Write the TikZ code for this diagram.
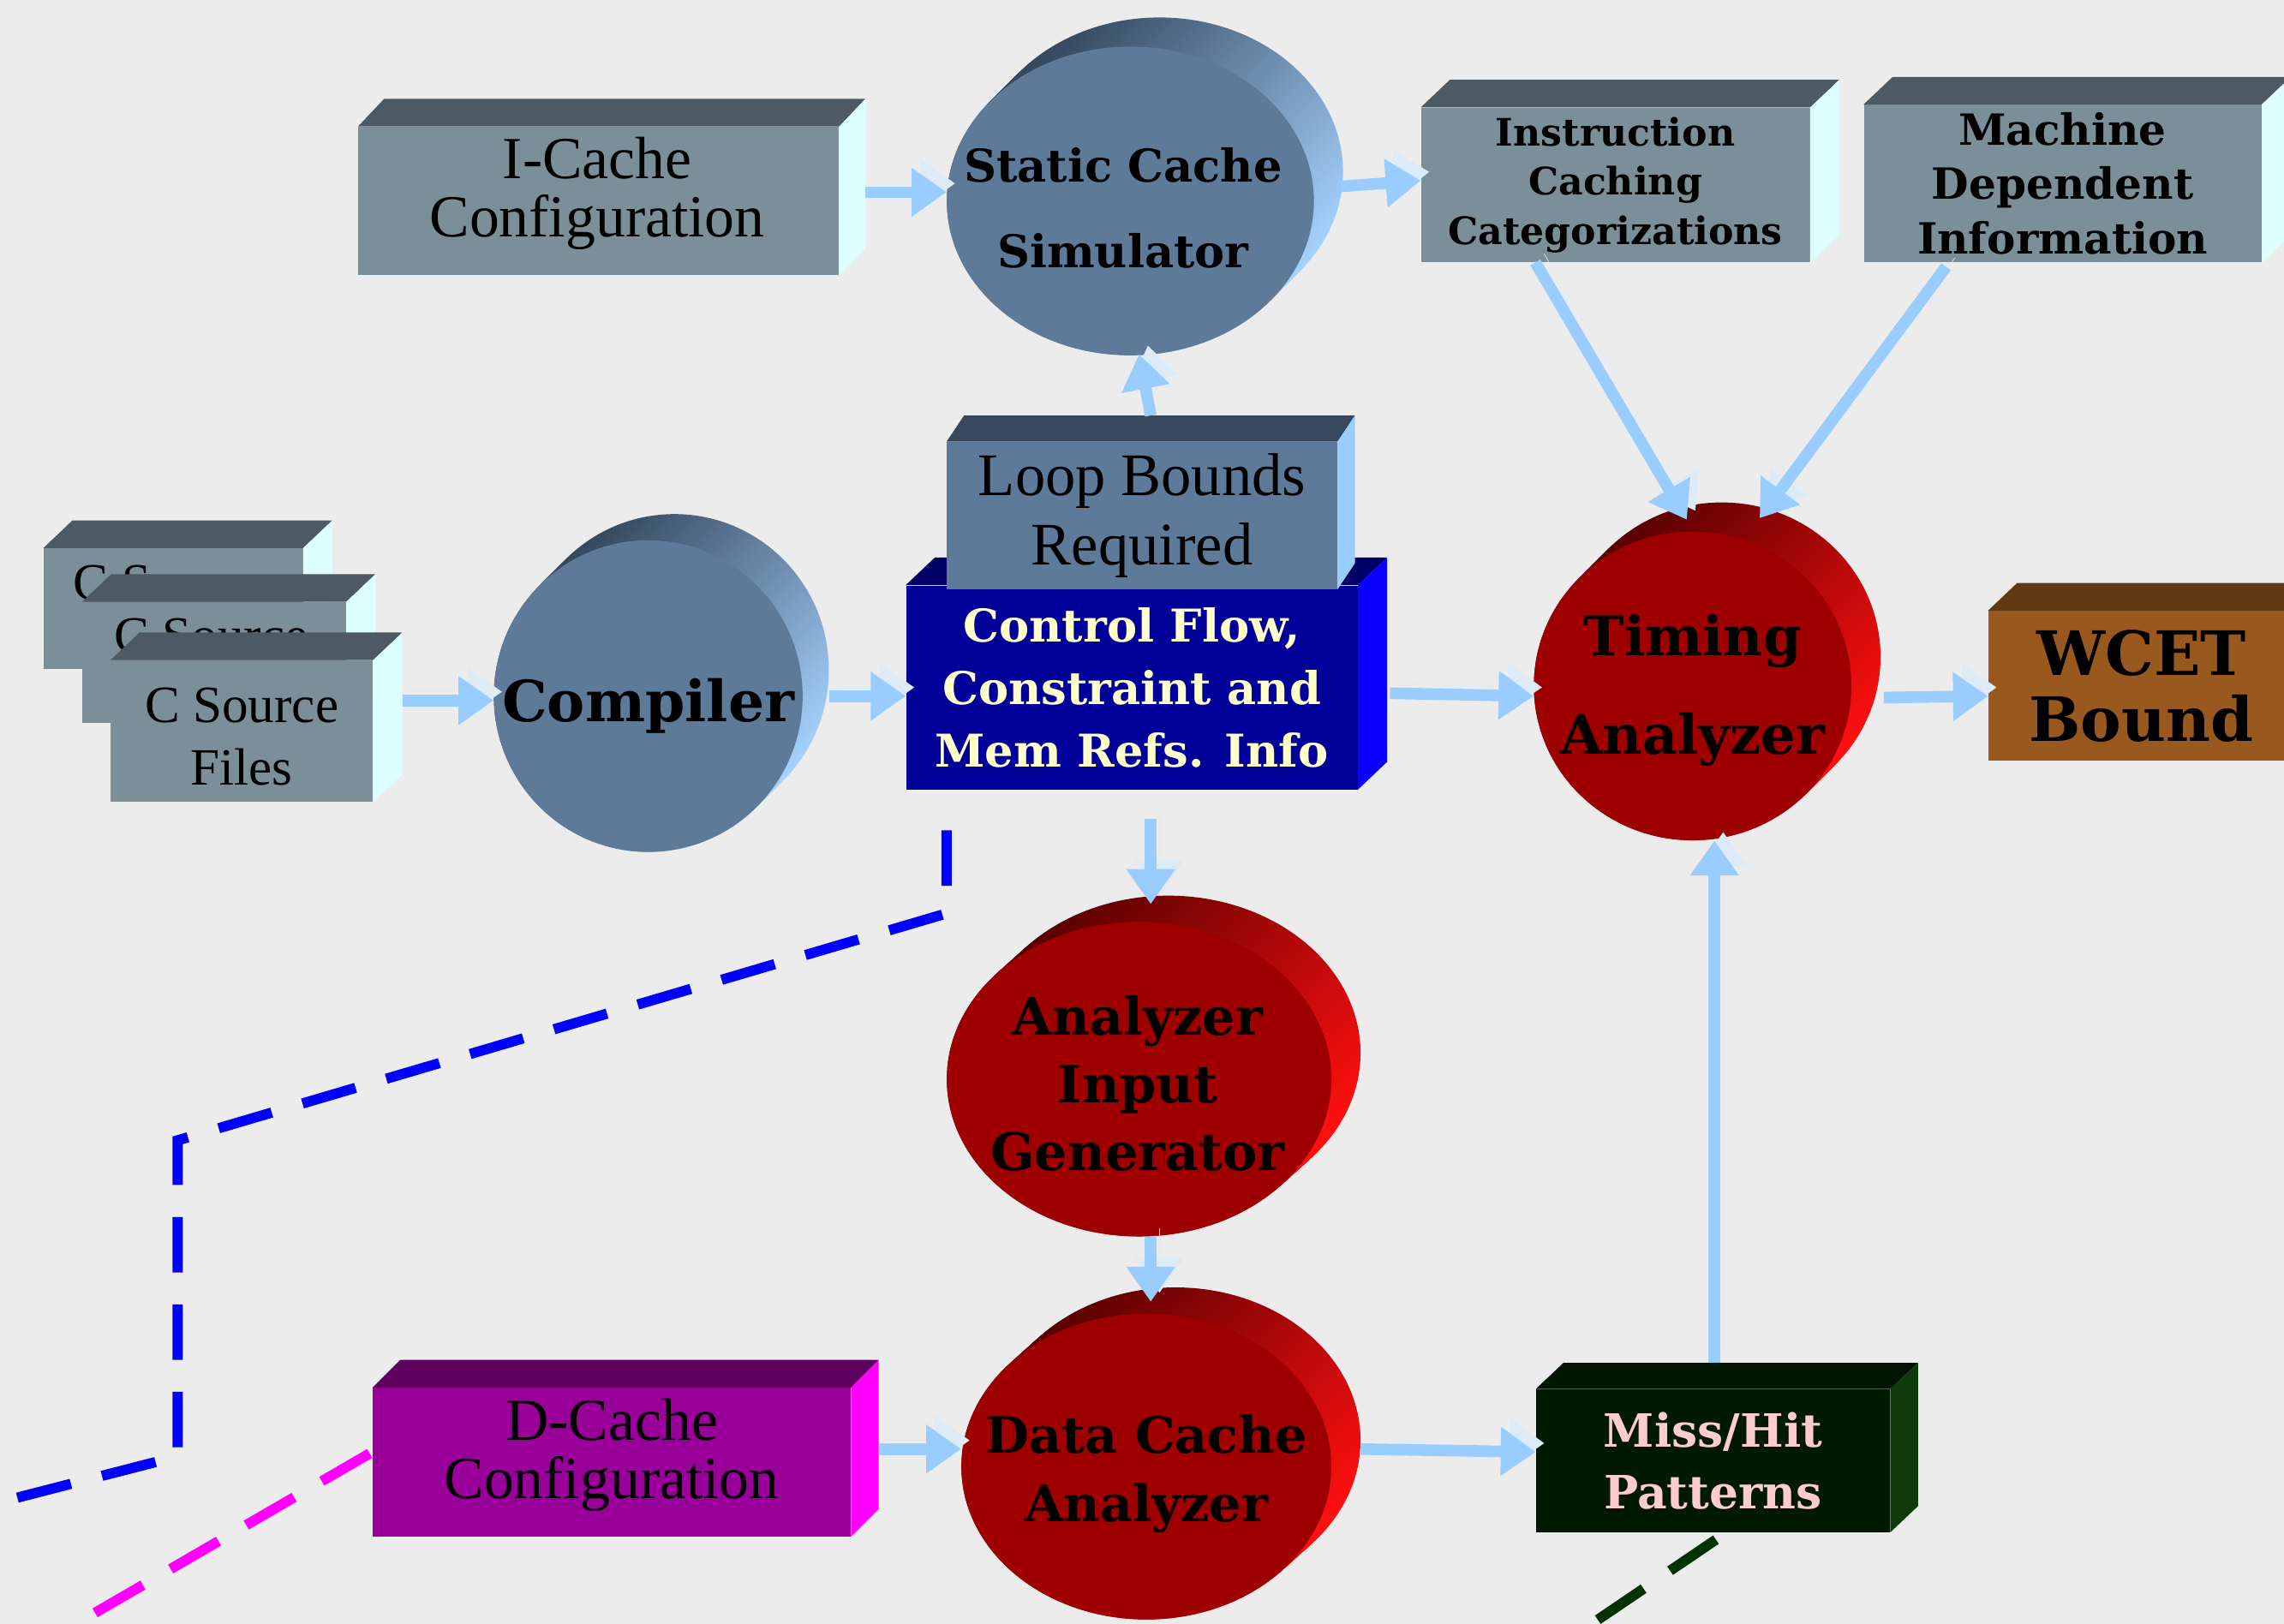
\documentclass[tikz,border=0pt]{standalone}
\usepackage{fontspec}
\setmainfont{Liberation Serif}
\newfontfamily\headfont{DejaVu Serif}
\usetikzlibrary{arrows.meta,shapes.geometric}

\definecolor{paper}{HTML}{ECECEC}
\definecolor{grayfront}{HTML}{7B8F99}
\definecolor{graytop}{HTML}{4E5A63}
\definecolor{grayside}{HTML}{DDFFFF}
\definecolor{blufront}{HTML}{5D7A99}
\definecolor{blutop}{HTML}{36495E}
\definecolor{bluside}{HTML}{99CCFF}
\definecolor{blurimtop}{HTML}{34485E}
\definecolor{blurimlow}{HTML}{A6D2FF}
\definecolor{cffront}{HTML}{000099}
\definecolor{cftop}{HTML}{000066}
\definecolor{cfside}{HTML}{0A00FF}
\definecolor{cftext}{HTML}{FFFFCC}
\definecolor{redfront}{HTML}{9E0000}
\definecolor{redrimtop}{HTML}{5A0000}
\definecolor{redrimlow}{HTML}{FF1010}
\definecolor{wcetfront}{HTML}{99591E}
\definecolor{wcettop}{HTML}{603813}
\definecolor{dcfront}{HTML}{990099}
\definecolor{dctop}{HTML}{5E005E}
\definecolor{dcside}{HTML}{FF00FF}
\definecolor{mhfront}{HTML}{001A00}
\definecolor{mhtop}{HTML}{001400}
\definecolor{mhside}{HTML}{0F3A0A}
\definecolor{mhtext}{HTML}{FFCCCC}
\definecolor{flowblue}{HTML}{99CCFF}
\definecolor{flowpale}{HTML}{DDEBF7}
\definecolor{dashblue}{HTML}{0000FF}
\definecolor{dashmag}{HTML}{FF00FF}
\definecolor{dashgreen}{HTML}{003300}

% top and side faces of a box node: node, dx, dy, top colour, side colour
\newcommand{\slabfaces}[5]{%
  \fill[#4] (#1.north west) -- ++(#2,#3) -- ([shift={(#2,#3)}]#1.north east) -- (#1.north east) -- cycle;
  \fill[#5] (#1.north east) -- ++(#2,#3) -- ([shift={(#2,#3)}]#1.south east) -- (#1.south east) -- cycle;
}

\begin{document}
\begin{tikzpicture}[x=1pt,y=-1pt,
  flow/.style={draw=flowblue, line width=8pt, -{Triangle[length=24pt,width=32pt]},
    preaction={draw=flowpale, transform canvas={shift={(6pt,6pt)}}}},
  slab/.style={rectangle, inner sep=0pt, align=center},
  disc/.style={ellipse, inner sep=0pt},
  plaintext/.style 2 args={font=\fontsize{#1}{#2}\selectfont, align=center},
  boldtext/.style 2 args={font=\headfont\bfseries\fontsize{#1}{#2}\selectfont, align=center},
  rimblue/.style={top color=blurimtop, middle color=blurimlow, bottom color=blurimlow, shading angle=45},
  rimred/.style={top color=redrimtop, middle color=redrimlow, bottom color=redrimlow, shading angle=45},
  dashlink/.style={line width=7pt, dash pattern=on 38pt off 22pt}]

\clip (0,0) rectangle (1568,1115);
\fill[paper] (0,0) rectangle (1568,1115);

% boxes along the top
\node[slab, fill=grayfront, minimum width=330, minimum height=102] (icache) at (411,138) {};
\node[plaintext={41}{40}] (icachelabel) at (410,133) {I-Cache\\Configuration};
\slabfaces{icache}{18}{-19}{graytop}{grayside}
\node[slab, fill=grayfront, minimum width=267, minimum height=106, boldtext={26}{34}] (icc) at (1109,127) {Instruction\\Caching\\Categorizations};
\slabfaces{icc}{20}{-19}{graytop}{grayside}
\node[slab, fill=grayfront, minimum width=273, minimum height=108, boldtext={29.5}{37.5}] (mdi) at (1416,126) {Machine\\Dependent\\Information};
\slabfaces{mdi}{20}{-19}{graytop}{grayside}

% static cache simulator
\foreach \k in {0,...,10}
  \shade[rimblue] ({796-2*\k},{118+2*\k}) ellipse [x radius=126, y radius=106];
\node[disc, fill=blufront, minimum width=252, minimum height=212] (sim) at (776,138) {};
\node[boldtext={31}{59}] (simlabel) at (771,143) {Static Cache\\Simulator};

% source files
\node[slab, fill=grayfront, minimum width=178, minimum height=83] (csrc1) at (119,418) {};
\node[plaintext={36}{43}] (csrc1label) at (117,400) {C Source};
\slabfaces{csrc1}{20}{-19}{graytop}{grayside}
\node[slab, fill=grayfront, minimum width=181, minimum height=83] (csrc2) at (147,455) {};
\node[plaintext={36}{43}] (csrc2label) at (145,437) {C Source};
\slabfaces{csrc2}{20}{-19}{graytop}{grayside}
\node[slab, fill=grayfront, minimum width=180, minimum height=97] (csrc3) at (166,502) {};
\node[plaintext={36}{43}] (csrc3label) at (166,506) {C Source\\Files};
\slabfaces{csrc3}{20}{-19}{graytop}{grayside}

% compiler
\foreach \k in {0,...,10}
  \shade[rimblue] ({463-1.8*\k},{460+1.8*\k}) ellipse [x radius=106, y radius=107];
\node[disc, fill=blufront, minimum width=212, minimum height=214] (comp) at (445,478) {};
\node[boldtext={39}{44}] (complabel) at (445,485) {Compiler};

% control flow and loop bounds
\node[slab, fill=cffront, text=cftext, minimum width=310, minimum height=140, boldtext={31}{43}] (cf) at (777,472) {Control Flow,\\Constraint and\\Mem Refs. Info};
\slabfaces{cf}{20}{-19}{cftop}{cfside}
\node[slab, fill=blufront, minimum width=268, minimum height=101, plaintext={41.5}{48}] (loop) at (784,354) {Loop Bounds\\Required};
\slabfaces{loop}{12}{-18}{blutop}{bluside}

% timing analyzer
\foreach \k in {0,...,10}
  \shade[rimred] ({1182-2*\k},{451+2*\k}) ellipse [x radius=109, y radius=106];
\node[disc, fill=redfront, minimum width=218, minimum height=212] (tim) at (1162,471) {};
\node[boldtext={37.5}{68}] (timlabel) at (1162,474) {Timing\\Analyzer};

% wcet bound
\node[slab, fill=wcetfront, minimum width=210, minimum height=103, boldtext={42}{45}] (wcet) at (1470,471) {WCET\\Bound};
\slabfaces{wcet}{20}{-19}{wcettop}{wcetfront}

% analyzer input generator
\foreach \k in {0,...,10}
  \shade[rimred] ({802-2*\k},{723+1.8*\k}) ellipse [x radius=132, y radius=108];
\node[disc, fill=redfront, minimum width=264, minimum height=216] (aig) at (782,741) {};
\node[boldtext={35.5}{46.5}] (aiglabel) at (781,744) {Analyzer\\Input\\Generator};

% data cache analyzer
\foreach \k in {0,...,10}
  \shade[rimred] ({807-2*\k},{989+1.8*\k}) ellipse [x radius=127, y radius=105];
\node[disc, fill=redfront, minimum width=254, minimum height=210] (dca) at (787,1007) {};
\node[boldtext={34.5}{47}] (dcalabel) at (787,1012) {Data Cache\\Analyzer};

% d-cache and miss/hit
\node[slab, fill=dcfront, minimum width=328, minimum height=102] (dcache) at (420,1004) {};
\node[plaintext={41}{40}] (dcachelabel) at (420,999) {D-Cache\\Configuration};
\slabfaces{dcache}{19}{-19}{dctop}{dcside}
\node[slab, fill=mhfront, text=mhtext, minimum width=243, minimum height=98, boldtext={31.5}{42}] (mh) at (1176,1003) {Miss/Hit\\Patterns};
\slabfaces{mh}{19}{-18}{mhtop}{mhside}

% dashed leads
\coordinate (blueout) at (-10,1034);
\coordinate (magout) at (35,1125);
\coordinate (greenout) at (1078,1125);
\draw[dashlink, draw=dashblue] (cf.south west) ++(28,28) -- ++(0,57) -- (122,783) -- (122,1000) -- (blueout);
\draw[dashlink, draw=dashmag] (dcache.west) ++(-2,-6) -- (magout);
\draw[dashlink, draw=dashgreen] (mh.south) ++(2,5) -- (greenout);

% flows
\draw[flow] (icache.east) ++(18,-6) -- ([yshift=6pt]sim.west);
\draw[flow] (sim.east) ++(18,-10) -- ([yshift=3pt]icc.west);
\draw[flow] (loop.north) ++(6,-18) -- ([shift={(6,-1)}]sim.south);
\draw[flow] (csrc3.east |- comp.west) ++(20,3) -- ([yshift=-3pt]comp.west);
\draw[flow] (comp.east) ++(18,0) -- (cf.west |- comp.east);
\draw[flow] (cf.east) ++(22,4) -- ([yshift=-7pt]tim.west);
\draw[flow] (icc.south) ++(-55,0) -- ([shift={(-4,-8)}]tim.north);
\draw[flow] (mdi.south) ++(-80,3) -- ([shift={(46,-9)}]tim.north);
\draw[flow] (tim.east) ++(22,8) -- ([yshift=-7pt]wcet.west);
\draw[flow] (cf.south) ++(13,20) -- ([shift={(8,-12)}]aig.north);
\draw[flow] (aig.south) ++(8,0) -- ([shift={(3,-8)}]dca.north);
\draw[flow] (dcache.east) ++(19,-9) -- ([yshift=12pt]dca.west);
\draw[flow] (dca.east) ++(20,-12) -- ([yshift=6pt]mh.west);
\draw[flow] (mh.north) ++(1,-18) -- ([xshift=15pt]tim.south);

\end{tikzpicture}
\end{document}
